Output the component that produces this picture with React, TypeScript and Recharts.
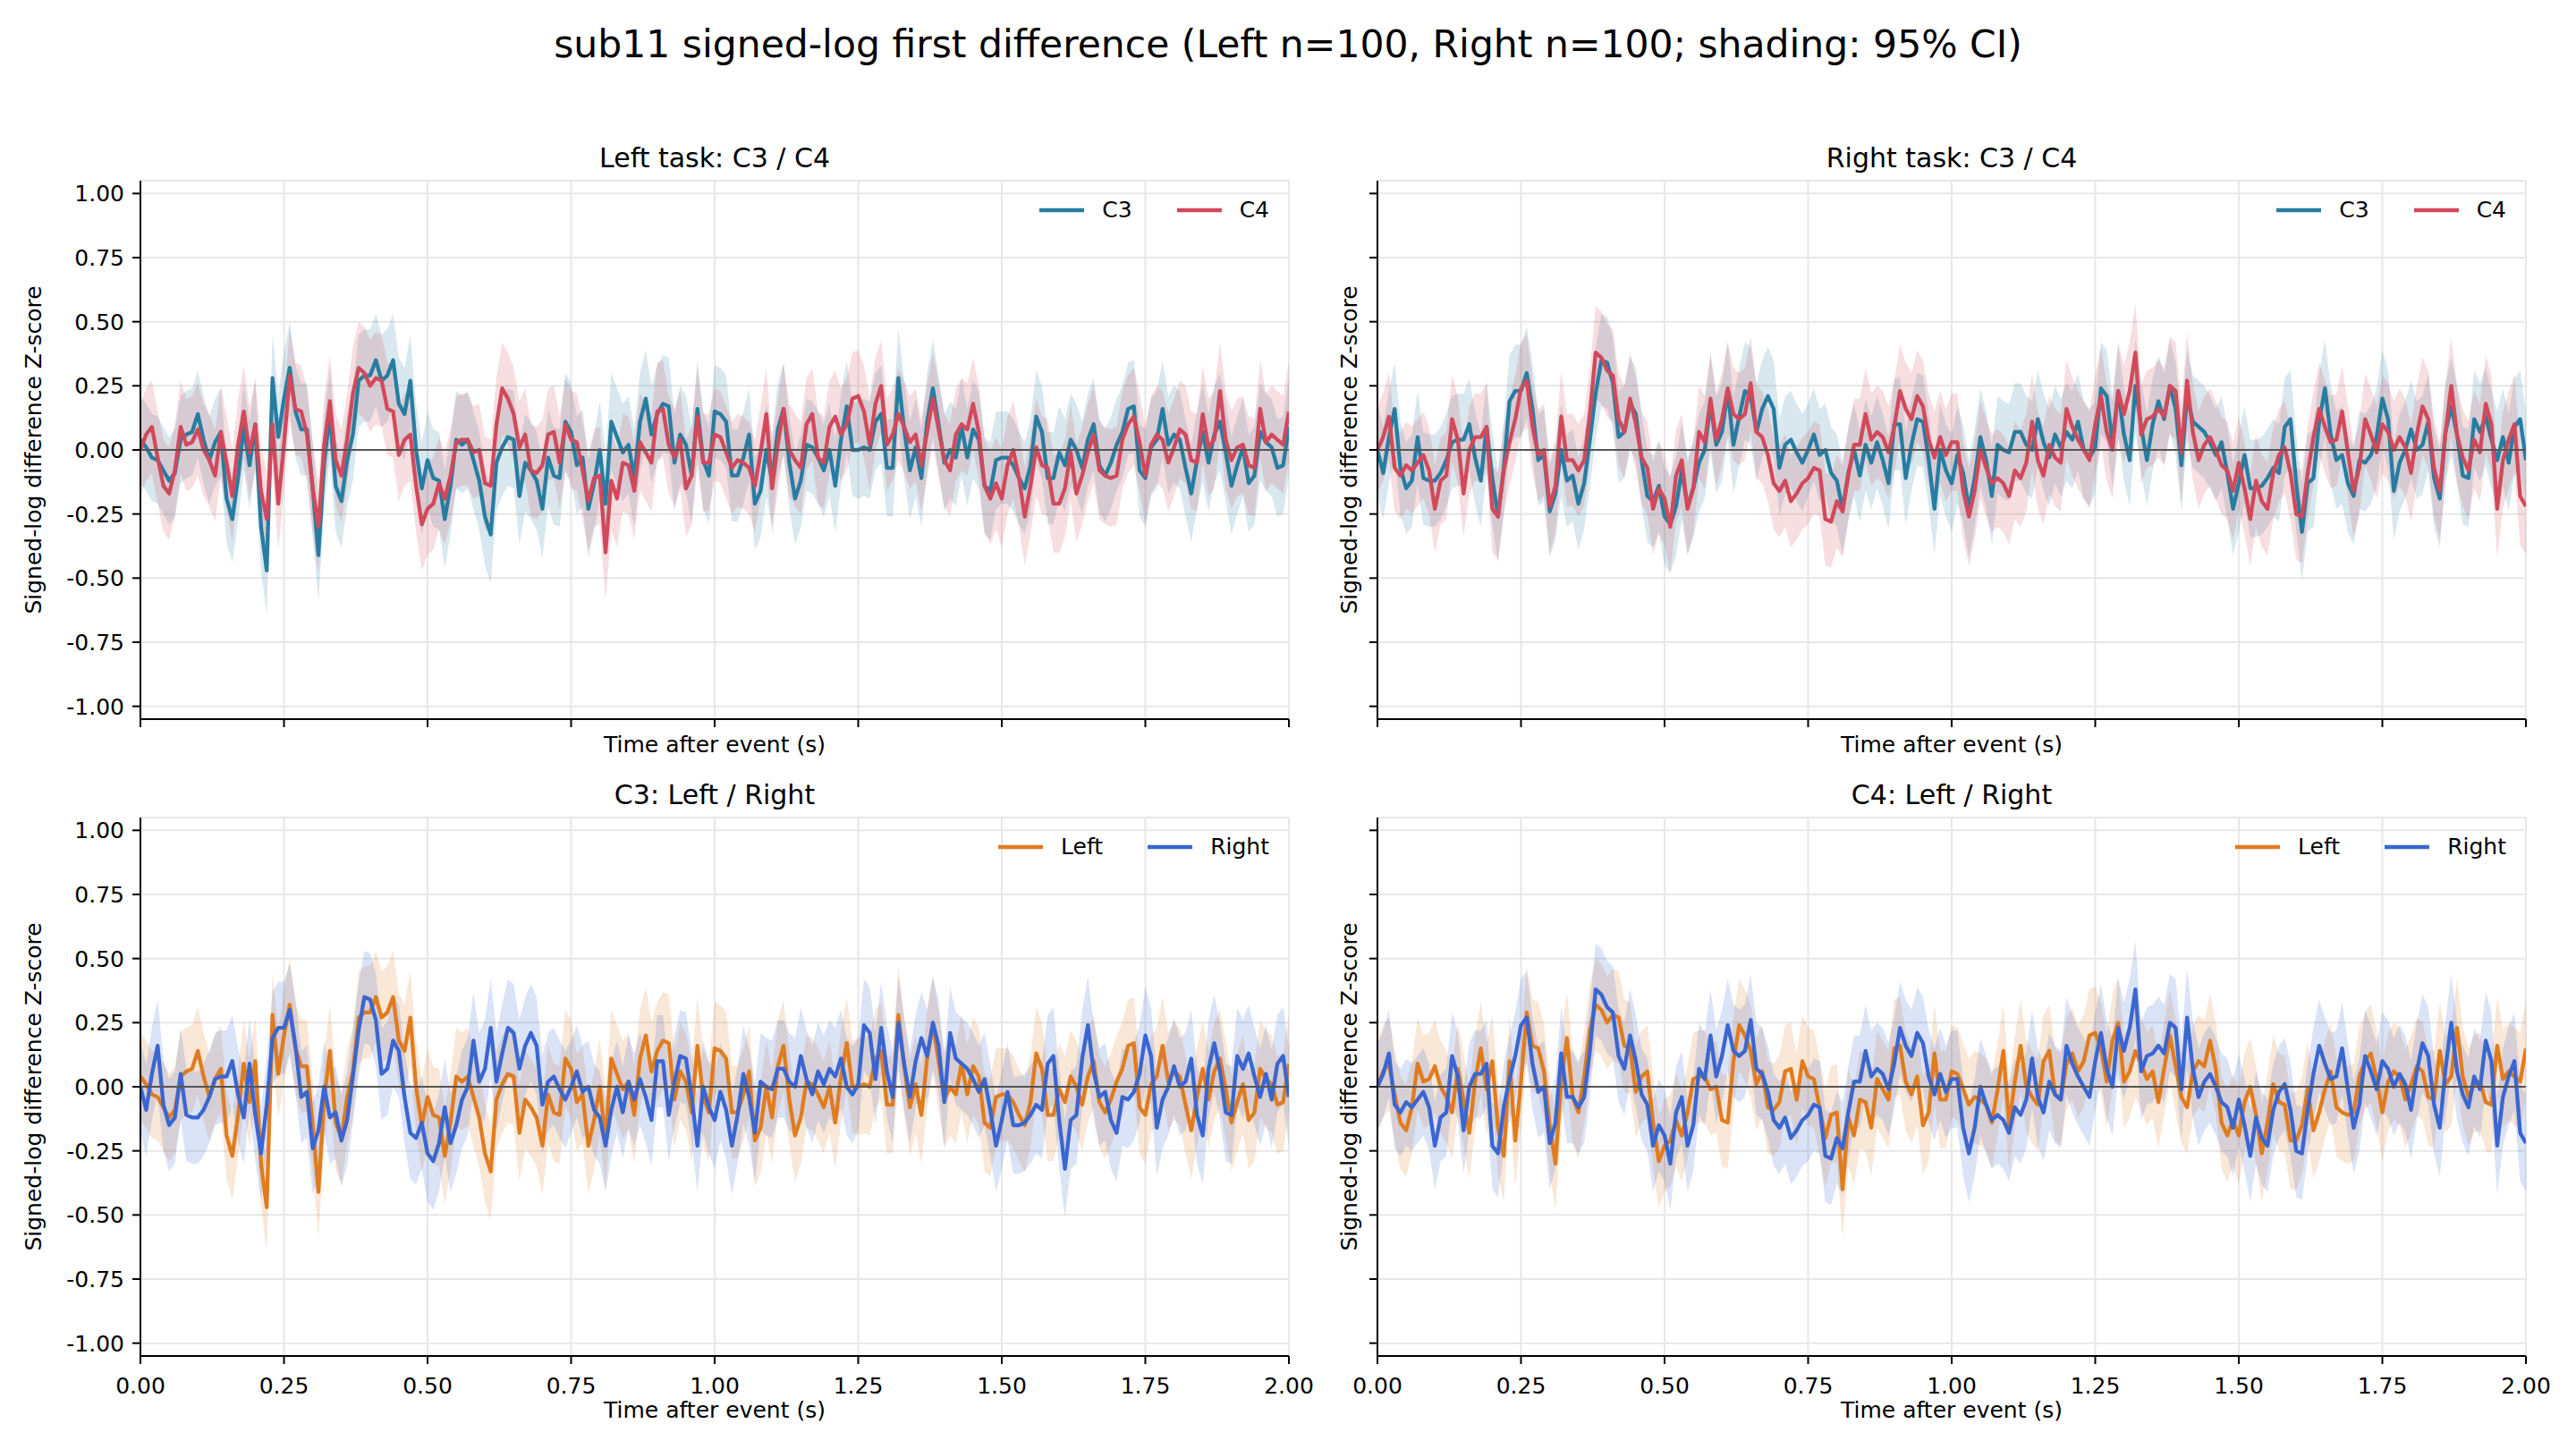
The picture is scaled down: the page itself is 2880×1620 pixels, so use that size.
import React from 'react';
import { ComposedChart, Line, Area, XAxis, YAxis, CartesianGrid, ReferenceLine } from 'recharts';

// sampling: one value every 10 ms from 0 to 2 s
const STEP = 0.01;
const xTicks = [0, 0.25, 0.5, 0.75, 1, 1.25, 1.5, 1.75, 2];
const yTicks = [-1, -0.75, -0.5, -0.25, 0, 0.25, 0.5, 0.75, 1];

// mean signed-log first difference (z-score), left-hand task
const c3Left = [
  0.04, 0.01, -0.03, -0.04, -0.08, -0.12, -0.09, 0.04, 0.06, 0.07,
  0.14, 0.04, -0.04, 0.03, 0.07, -0.19, -0.27, -0.11, 0.09, -0.06,
  0.10, -0.30, -0.47, 0.28, 0.05, 0.20, 0.32, 0.15, 0.08, 0.08,
  -0.15, -0.41, -0.05, 0.14, -0.14, -0.20, -0.04, 0.06, 0.27, 0.29,
  0.29, 0.35, 0.27, 0.29, 0.35, 0.18, 0.14, 0.27, 0.00, -0.15,
  -0.04, -0.11, -0.12, -0.27, -0.14, 0.04, 0.02, 0.04, -0.04, -0.12,
  -0.26, -0.33, -0.05, 0.01, 0.05, 0.04, -0.18, -0.05, -0.08, -0.12,
  -0.23, -0.03, -0.10, -0.11, 0.11, 0.07, -0.06, -0.03, -0.23, -0.13,
  0.00, -0.21, 0.11, 0.05, -0.01, 0.02, -0.11, 0.11, 0.20, 0.06,
  0.14, 0.18, 0.17, -0.05, 0.06, 0.02, -0.10, 0.16, -0.04, -0.10,
  0.15, 0.14, 0.11, -0.10, -0.10, -0.03, 0.06, -0.21, -0.16, 0.00,
  -0.12, 0.08, 0.16, -0.05, -0.19, -0.12, 0.02, 0.01, -0.03, -0.08,
  0.00, -0.14, 0.04, 0.17, 0.00, 0.00, 0.01, 0.00, 0.11, 0.14,
  -0.07, -0.07, 0.28, 0.08, -0.08, 0.01, -0.11, 0.11, 0.24, 0.10,
  -0.05, 0.00, -0.03, 0.09, -0.03, 0.08, 0.04, -0.14, -0.16, -0.04,
  -0.03, -0.03, -0.06, -0.11, -0.15, -0.06, 0.13, 0.07, -0.11, -0.11,
  -0.01, -0.06, 0.04, 0.00, -0.07, 0.04, 0.10, -0.06, -0.10, -0.05,
  0.02, 0.07, 0.16, 0.17, -0.08, -0.11, 0.01, 0.04, 0.16, 0.02,
  0.06, 0.04, -0.07, -0.17, -0.04, 0.07, -0.05, 0.06, 0.11, -0.01,
  -0.14, -0.06, 0.01, -0.13, -0.10, 0.07, 0.03, 0.01, -0.07, -0.06,
  0.09,
];

const c4Left = [
  0.00, 0.06, 0.09, -0.03, -0.14, -0.17, -0.08, 0.09, 0.02, 0.03,
  0.08, 0.00, -0.04, -0.10, 0.07, -0.05, -0.18, 0.02, 0.15, -0.01,
  0.10, -0.16, -0.27, 0.10, -0.21, 0.02, 0.29, 0.16, 0.15, 0.06,
  -0.15, -0.30, 0.02, 0.19, -0.04, -0.10, 0.04, 0.22, 0.32, 0.30,
  0.25, 0.28, 0.27, 0.16, 0.15, -0.02, 0.04, 0.06, -0.14, -0.29,
  -0.23, -0.21, -0.13, -0.19, -0.10, 0.03, 0.04, 0.04, -0.01, 0.00,
  -0.13, -0.14, 0.10, 0.24, 0.20, 0.14, 0.01, 0.06, -0.08, -0.09,
  -0.06, 0.06, 0.07, -0.05, 0.10, 0.04, 0.03, -0.08, -0.20, -0.11,
  -0.10, -0.40, -0.12, -0.19, -0.05, -0.06, -0.16, 0.03, -0.01, -0.05,
  0.15, 0.16, 0.02, -0.03, 0.04, -0.15, -0.10, 0.13, -0.05, -0.05,
  0.06, 0.05, -0.01, -0.07, -0.04, -0.05, -0.07, -0.14, -0.01, 0.14,
  -0.15, 0.02, 0.16, 0.00, -0.04, -0.07, 0.10, 0.14, -0.03, -0.05,
  0.09, 0.13, 0.06, 0.10, 0.20, 0.21, 0.15, 0.02, 0.18, 0.25,
  0.02, 0.06, 0.14, 0.09, 0.03, 0.06, -0.06, 0.07, 0.20, 0.08,
  -0.04, -0.08, 0.06, 0.10, 0.08, 0.18, 0.07, -0.14, -0.19, -0.13,
  -0.19, -0.06, 0.00, -0.11, -0.26, -0.14, 0.01, -0.06, -0.07, -0.21,
  -0.21, -0.15, -0.01, -0.17, -0.10, -0.01, 0.06, -0.08, -0.10, -0.11,
  -0.10, 0.04, 0.10, 0.13, 0.03, -0.10, 0.02, 0.06, 0.04, -0.05,
  0.01, 0.08, 0.06, -0.04, -0.05, 0.14, 0.01, 0.04, 0.23, 0.04,
  -0.04, 0.01, 0.02, -0.06, -0.07, 0.16, 0.03, 0.06, 0.04, 0.02,
  0.15,
];

// right-hand task
const c3Right = [
  0.00, -0.09, 0.05, 0.16, -0.07, -0.15, -0.12, 0.05, -0.11, -0.12,
  -0.12, -0.09, -0.04, 0.03, 0.04, 0.04, 0.10, -0.03, -0.12, 0.09,
  -0.11, -0.26, -0.07, 0.19, 0.23, 0.23, 0.30, 0.16, -0.04, -0.02,
  -0.24, -0.17, 0.00, -0.12, -0.10, -0.21, -0.13, 0.04, 0.22, 0.35,
  0.34, 0.26, 0.05, 0.07, 0.18, 0.14, -0.04, -0.18, -0.20, -0.14,
  -0.26, -0.29, -0.22, -0.08, -0.22, -0.15, -0.05, 0.00, 0.18, 0.02,
  0.07, 0.23, 0.02, 0.13, 0.23, 0.21, 0.07, 0.16, 0.21, 0.16,
  -0.07, 0.02, 0.04, -0.01, -0.05, 0.00, 0.06, -0.02, 0.00, -0.09,
  -0.12, -0.23, -0.09, 0.00, -0.10, 0.02, -0.05, 0.03, -0.04, -0.13,
  0.10, 0.10, -0.11, 0.02, 0.12, 0.11, -0.04, -0.23, 0.00, -0.08,
  -0.13, -0.02, -0.09, -0.23, -0.11, 0.05, -0.04, -0.18, 0.02, 0.00,
  -0.01, 0.07, 0.07, 0.02, 0.00, 0.12, 0.03, -0.03, 0.06, 0.01,
  0.07, 0.04, 0.11, 0.00, -0.03, 0.01, 0.24, 0.21, 0.03, 0.23,
  0.06, -0.04, 0.25, 0.09, -0.04, 0.10, 0.19, 0.12, 0.25, 0.16,
  -0.06, 0.21, 0.11, 0.09, 0.07, 0.03, -0.02, 0.03, -0.09, -0.23,
  -0.13, -0.02, -0.15, -0.15, -0.14, -0.11, -0.07, -0.09, 0.09, 0.12,
  -0.13, -0.32, -0.13, -0.11, 0.11, 0.24, 0.06, -0.04, -0.02, -0.13,
  -0.18, -0.04, -0.05, -0.02, 0.05, 0.20, 0.12, -0.16, -0.05, 0.00,
  0.08, 0.00, 0.02, 0.11, -0.11, -0.19, 0.07, 0.17, 0.06, -0.10,
  -0.11, 0.12, 0.07, 0.13, 0.04, -0.04, 0.05, -0.05, 0.09, 0.12,
  -0.04,
];

const c4Right = [
  0.00, 0.05, 0.13, -0.07, -0.10, -0.06, -0.08, -0.05, -0.02, -0.08,
  -0.23, -0.12, -0.10, 0.12, 0.04, -0.17, 0.00, 0.05, 0.05, 0.09,
  -0.23, -0.26, -0.08, 0.03, 0.12, 0.24, 0.27, 0.09, -0.02, 0.00,
  -0.22, -0.14, 0.13, -0.04, -0.04, -0.08, -0.04, 0.14, 0.38, 0.36,
  0.31, 0.29, 0.12, 0.07, 0.20, 0.10, -0.03, -0.07, -0.23, -0.15,
  -0.19, -0.30, -0.10, -0.04, -0.23, -0.15, 0.07, 0.03, 0.20, 0.04,
  0.12, 0.24, 0.14, 0.12, 0.14, 0.26, 0.07, 0.05, -0.02, -0.13,
  -0.16, -0.12, -0.20, -0.17, -0.13, -0.11, -0.07, -0.08, -0.27, -0.28,
  -0.20, -0.24, -0.10, 0.02, 0.02, 0.14, 0.04, 0.07, 0.05, -0.01,
  0.09, 0.23, 0.16, 0.12, 0.21, 0.17, 0.04, -0.03, 0.05, -0.02,
  0.03, 0.03, -0.16, -0.26, -0.16, 0.00, -0.07, -0.13, -0.11, -0.13,
  -0.18, -0.08, -0.11, -0.05, 0.11, -0.04, -0.10, 0.02, -0.03, -0.05,
  0.16, 0.09, 0.04, 0.00, -0.04, 0.10, 0.21, 0.07, 0.00, 0.23,
  0.14, 0.23, 0.38, 0.06, 0.12, 0.13, 0.16, 0.13, 0.25, 0.23,
  -0.01, 0.27, 0.07, -0.04, 0.02, 0.05, 0.00, -0.06, -0.08, -0.16,
  -0.05, -0.15, -0.27, -0.12, -0.20, -0.23, -0.09, -0.02, 0.01, -0.09,
  -0.25, -0.26, -0.09, 0.05, 0.16, 0.09, 0.03, 0.04, 0.15, -0.01,
  -0.16, -0.07, 0.12, 0.06, -0.01, 0.10, 0.07, 0.00, 0.05, 0.01,
  -0.09, 0.06, 0.17, 0.12, -0.07, -0.16, 0.07, 0.25, 0.06, -0.03,
  -0.08, 0.04, -0.01, 0.18, 0.10, -0.23, -0.04, 0.04, 0.10, -0.18,
  -0.22,
];

// 95% CI half-width, one value per quarter second
const c3LeftCi = [0.17, 0.18, 0.19, 0.19, 0.18, 0.19, 0.18, 0.19];
const c4LeftCi = [0.18, 0.18, 0.18, 0.19, 0.18, 0.18, 0.19, 0.19];
const c3RightCi = [0.18, 0.18, 0.19, 0.18, 0.19, 0.18, 0.19, 0.19];
const c4RightCi = [0.17, 0.18, 0.18, 0.18, 0.19, 0.19, 0.18, 0.19];

const FONT = 'DejaVu Sans, sans-serif';
const PLOT_W = 1284;
const PLOT_H = 602;
const Y_AXIS_W = 157;
const PAD_TOP = 10;
const PAD_RIGHT = 40;
const LINE_W = 4.3;

type Trace = { name: string; color: string; values: number[]; ci: number[] };

const C3_COLOR = '#277da1';
const C4_COLOR = '#d1495b';
const LEFT_COLOR = '#e07c1f';
const RIGHT_COLOR = '#3a66d0';

const buildRows = (a: Trace, b: Trace) =>
  a.values.map((v, i) => {
    const blk = Math.min(Math.floor(i / 25), 7);
    const w = b.values[i];
    return {
      t: +(i * STEP).toFixed(2),
      a: v,
      aBand: [v - a.ci[blk], v + a.ci[blk]],
      b: w,
      bBand: [w - b.ci[blk], w + b.ci[blk]],
    };
  });

type PanelSpec = {
  title: string;
  a: Trace;
  b: Trace;
  plotLeft: number;
  plotTop: number;
  showXLabels: boolean;
  showYLabels: boolean;
  yLabelX: number;
};

const panels: PanelSpec[] = [
  {
    title: 'Left task: C3 / C4',
    a: { name: 'C3', color: C3_COLOR, values: c3Left, ci: c3LeftCi },
    b: { name: 'C4', color: C4_COLOR, values: c4Left, ci: c4LeftCi },
    plotLeft: 157, plotTop: 202, showXLabels: false, showYLabels: true, yLabelX: 37,
  },
  {
    title: 'Right task: C3 / C4',
    a: { name: 'C3', color: C3_COLOR, values: c3Right, ci: c3RightCi },
    b: { name: 'C4', color: C4_COLOR, values: c4Right, ci: c4RightCi },
    plotLeft: 1540, plotTop: 202, showXLabels: false, showYLabels: false, yLabelX: 1508,
  },
  {
    title: 'C3: Left / Right',
    a: { name: 'Left', color: LEFT_COLOR, values: c3Left, ci: c3LeftCi },
    b: { name: 'Right', color: RIGHT_COLOR, values: c3Right, ci: c3RightCi },
    plotLeft: 157, plotTop: 914, showXLabels: true, showYLabels: true, yLabelX: 37,
  },
  {
    title: 'C4: Left / Right',
    a: { name: 'Left', color: LEFT_COLOR, values: c4Left, ci: c4LeftCi },
    b: { name: 'Right', color: RIGHT_COLOR, values: c4Right, ci: c4RightCi },
    plotLeft: 1540, plotTop: 914, showXLabels: true, showYLabels: false, yLabelX: 1508,
  },
];

const axisText = { fontSize: 25, fill: '#000', fontFamily: FONT };
const frame = { stroke: '#000', strokeWidth: 2 };

const Panel: React.FC<{ p: PanelSpec }> = ({ p }) => {
  const rows = buildRows(p.a, p.b);
  const axisH = p.showXLabels ? 90 : 60;
  const chartLeft = p.plotLeft - Y_AXIS_W;
  return (
    <div style={{ position: 'absolute', left: chartLeft, top: p.plotTop - PAD_TOP }}>
      <ComposedChart
        width={Y_AXIS_W + PLOT_W + PAD_RIGHT}
        height={PAD_TOP + PLOT_H + axisH}
        data={rows}
        margin={{ top: PAD_TOP, right: PAD_RIGHT, bottom: 0, left: 0 }}
      >
        <CartesianGrid stroke="#e7e7e7" strokeWidth={2} />
        <XAxis
          dataKey="t"
          type="number"
          domain={[0, 2]}
          ticks={xTicks}
          allowDataOverflow
          height={axisH}
          tickFormatter={(v: number) => (p.showXLabels ? v.toFixed(2) : '')}
          tick={axisText}
          tickSize={9}
          tickMargin={15}
          axisLine={frame}
          tickLine={frame}
          label={{
            value: 'Time after event (s)',
            position: 'insideBottom',
            offset: p.showXLabels ? 21 : 23,
            style: axisText,
          }}
        />
        <XAxis xAxisId="top" orientation="top" type="number" domain={[0, 2]} height={0} tick={false} tickLine={false} axisLine={frame} />
        <YAxis
          type="number"
          domain={[-1.05, 1.05]}
          ticks={yTicks}
          allowDataOverflow
          width={Y_AXIS_W}
          tickFormatter={(v: number) => (p.showYLabels ? v.toFixed(2) : '')}
          tick={axisText}
          tickSize={9}
          tickMargin={9}
          axisLine={frame}
          tickLine={frame}
          label={{
            value: 'Signed-log difference Z-score',
            angle: -90,
            position: 'insideLeft',
            offset: p.yLabelX - chartLeft,
            style: { ...axisText, textAnchor: 'middle' },
          }}
        />
        <YAxis yAxisId="right" orientation="right" type="number" domain={[-1.05, 1.05]} width={0} tick={false} tickLine={false} axisLine={frame} />
        <Area type="linear" dataKey="aBand" stroke="none" fill={p.a.color} fillOpacity={0.18} isAnimationActive={false} />
        <Area type="linear" dataKey="bBand" stroke="none" fill={p.b.color} fillOpacity={0.18} isAnimationActive={false} />
        <Line type="linear" dataKey="a" stroke={p.a.color} strokeWidth={LINE_W} dot={false} strokeLinejoin="round" isAnimationActive={false} />
        <Line type="linear" dataKey="b" stroke={p.b.color} strokeWidth={LINE_W} dot={false} strokeLinejoin="round" isAnimationActive={false} />
        <ReferenceLine y={0} stroke="#555555" strokeWidth={2.2} />
      </ComposedChart>
    </div>
  );
};

const PanelLegend: React.FC<{ p: PanelSpec }> = ({ p }) => (
  <div
    style={{
      position: 'absolute',
      top: p.plotTop + 18,
      right: 2880 - (p.plotLeft + PLOT_W - 22),
      display: 'flex',
      alignItems: 'center',
      fontFamily: FONT,
      fontSize: 25,
      lineHeight: '30px',
      color: '#000',
    }}
  >
    {[p.a, p.b].map((s, i) => (
      <div key={s.name} style={{ display: 'flex', alignItems: 'center', marginLeft: i ? 50 : 0 }}>
        <svg width={50} height={10}>
          <line x1={0} x2={50} y1={5} y2={5} stroke={s.color} strokeWidth={LINE_W} />
        </svg>
        <span style={{ marginLeft: 20 }}>{s.name}</span>
      </div>
    ))}
  </div>
);

export default function App() {
  return (
    <div style={{ position: 'absolute', left: 0, top: 0, width: 2880, height: 1620, background: '#fff', overflow: 'hidden' }}>
      {panels.map((p) => (
        <Panel key={p.title} p={p} />
      ))}
      <svg width={2880} height={1620} style={{ position: 'absolute', left: 0, top: 0, pointerEvents: 'none' }}>
        <text x={1440} y={64} textAnchor="middle" fontSize={42.5} fontFamily={FONT} fill="#000">
          sub11 signed-log first difference (Left n=100, Right n=100; shading: 95% CI)
        </text>
        {panels.map((p) => (
          <text key={p.title} x={p.plotLeft + PLOT_W / 2} y={p.plotTop - 15} textAnchor="middle" fontSize={30} fontFamily={FONT} fill="#000">
            {p.title}
          </text>
        ))}
      </svg>
      {panels.map((p) => (
        <PanelLegend key={p.title} p={p} />
      ))}
    </div>
  );
}
